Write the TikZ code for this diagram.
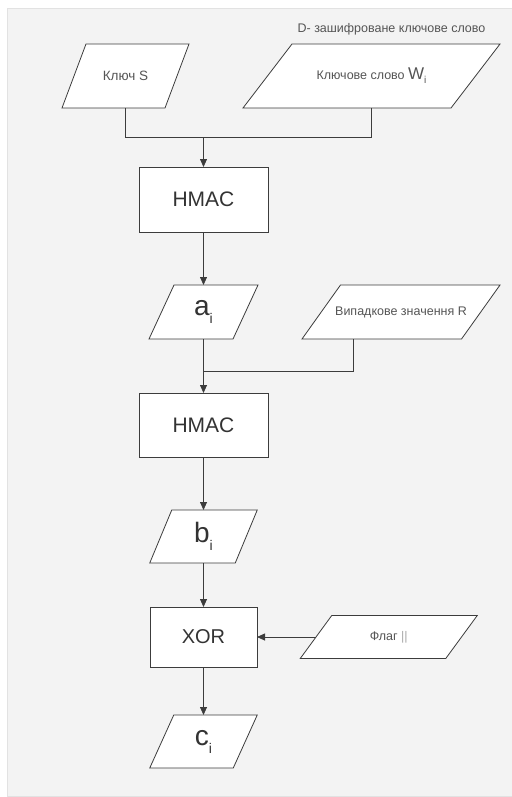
\documentclass[tikz,border=0pt]{standalone}
\usepackage{fontspec}
\setmainfont{Liberation Sans}
\usetikzlibrary{arrows.meta,calc}
\definecolor{panel}{HTML}{F3F3F3}
\definecolor{paneledge}{HTML}{E2E2E2}
\definecolor{ln}{HTML}{3C3C3C}
\definecolor{tx}{HTML}{333333}
\definecolor{txs}{HTML}{555555}
\definecolor{txl}{HTML}{AAAAAA}
\newcommand\pgram[7]{%
  \draw[ioshape] ({#2-#4/2-#6/2},{#3+#5/2}) -- ({#2+#4/2-#6/2},{#3+#5/2})
    -- ({#2+#4/2+#6/2},{#3-#5/2}) -- ({#2-#4/2+#6/2},{#3-#5/2}) -- cycle;
  \node[io, minimum width=#4pt, minimum height=#5pt] (#1) at (#2,#3) {#7};}
\newcommand\bigsub[2]{{\fontsize{28}{28}\selectfont #1}\raisebox{-8pt}{\fontsize{14}{14}\selectfont #2}}
\begin{document}
\begin{tikzpicture}[x=1pt,y=-1pt,
  proc/.style={draw=ln, fill=white, line width=0.8pt, inner sep=0pt, outer sep=0pt, text=tx, font=\fontsize{21}{21}\selectfont},
  io/.style={inner sep=0pt, outer sep=0pt, text=txs, font=\fontsize{12.5}{14}\selectfont},
  ioshape/.style={draw=ln, fill=white, line width=0.8pt, line join=miter},
  conn/.style={draw=ln, line width=0.8pt},
  arr/.style={conn, -{Triangle[length=8pt,width=7pt]}}]
\useasboundingbox (0,0) rectangle (511,797);
\fill[panel, draw=paneledge] (7,8) rectangle (512,796);
\node[io] (dl) at (391.5,29) {D- зашифроване ключове слово};
\pgram{ks}{125.5}{76}{103}{64}{24}{{\fontsize{13.5}{15}\selectfont Ключ S}}
\pgram{kw}{371.5}{76}{208}{64}{49}{Ключове слово {\fontsize{17}{17}\selectfont W}\raisebox{-4pt}{\fontsize{10}{10}\selectfont i}}
\coordinate (j1) at (203.5,137);
\node[proc, minimum width=129pt, minimum height=65pt] (h1) at (203.5,199.5) {HMAC};
\pgram{ai}{203.5}{312}{84}{54}{25}{\textcolor{tx}{\bigsub{a}{i}}}
\pgram{rv}{401}{312}{159.5}{54}{38.5}{Випадкове значення R}
\coordinate (j2) at (203.5,371);
\node[proc, minimum width=129pt, minimum height=64pt] (h2) at (203.5,425) {HMAC};
\pgram{bi}{203.5}{536.5}{85.5}{53}{22}{\textcolor{tx}{\bigsub{b}{i}}}
\node[proc, minimum width=107pt, minimum height=60pt, font=\fontsize{20}{20}\selectfont] (xr) at (203.5,637) {XOR};
\pgram{fl}{388.75}{637}{145.5}{43}{31.5}{{\fontsize{12.5}{14}\selectfont Флаг \textcolor{txl}{||}}}
\pgram{ci}{203.5}{741.5}{83.5}{53}{24}{\textcolor{tx}{\bigsub{c}{i}}}
\draw[conn] (ks.south) |- (j1);
\draw[conn] (kw.south) |- (j1);
\draw[arr] (j1) -- (h1.north);
\draw[arr] (h1.south) -- (ai.north);
\draw[conn] ([xshift=-48pt]rv.south) |- (j2);
\draw[arr] (ai.south) -- (h2.north);
\draw[arr] (h2.south) -- (bi.north);
\draw[arr] (bi.south) -- (xr.north);
\draw[arr] (fl.west) -- (xr.east);
\draw[arr] (xr.south) -- (ci.north);
\end{tikzpicture}
\end{document}
